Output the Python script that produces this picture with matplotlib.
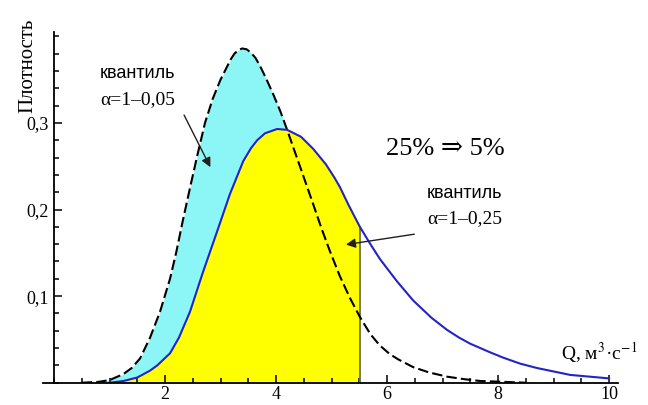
import numpy as np
import matplotlib
matplotlib.use('Agg')
import matplotlib.pyplot as plt
from matplotlib.ticker import MultipleLocator, FixedLocator

# density curves
q_dash = [0.5, 0.8, 1.0, 1.25, 1.4, 1.55, 1.73, 1.91, 2.09, 2.2, 2.32, 2.45, 2.58, 2.72, 2.86, 3.0,
          3.11, 3.18, 3.25, 3.32, 3.39, 3.47, 3.55, 3.63, 3.71, 3.83, 3.95, 4.08, 4.2, 4.32, 4.43,
          4.55, 4.67, 4.82, 4.97, 5.15, 5.33, 5.51, 5.7, 5.87, 6.05, 6.2, 6.47, 6.75, 7.08, 7.4,
          7.68, 8.1, 8.5]
p_dash = [0.000, 0.001, 0.003, 0.010, 0.017, 0.028, 0.052, 0.082, 0.120, 0.150, 0.187, 0.225, 0.262, 0.300, 0.328, 0.350,
          0.364, 0.373, 0.380, 0.384, 0.386, 0.385, 0.381, 0.375, 0.366, 0.350, 0.333, 0.313, 0.292, 0.270, 0.250,
          0.228, 0.206, 0.178, 0.152, 0.123, 0.098, 0.076, 0.056, 0.043, 0.033, 0.027, 0.018, 0.012, 0.007, 0.004,
          0.002, 0.001, 0.000]

q_blue = [1.0, 1.25, 1.5, 1.73, 1.86, 2.09, 2.25, 2.45, 2.68, 2.94, 3.17, 3.41, 3.55, 3.66, 3.8, 4.02,
          4.2, 4.45, 4.67, 4.9, 5.05, 5.15, 5.3, 5.51, 5.7, 5.87, 6.0, 6.18, 6.47, 6.8, 7.08, 7.3, 7.5,
          7.86, 8.09, 8.4, 8.7, 9.0, 9.3, 9.65, 10.0]
p_blue = [0.000, 0.002, 0.006, 0.014, 0.020, 0.034, 0.052, 0.082, 0.127, 0.175, 0.218, 0.256, 0.271, 0.280, 0.288, 0.293,
          0.292, 0.284, 0.270, 0.252, 0.237, 0.226, 0.206, 0.180, 0.160, 0.143, 0.132, 0.117, 0.095, 0.075, 0.061, 0.052, 0.045,
          0.035, 0.029, 0.022, 0.017, 0.013, 0.009, 0.007, 0.005]

q_cut = 5.51
x_ticks = [2, 4, 6, 8, 10]
y_ticks = [0.1, 0.2, 0.3]
y_labels = ['0,1', '0,2', '0,3']

SERIF = ['Liberation Serif', 'DejaVu Serif']
SANS = ['Liberation Sans', 'DejaVu Sans']


def main():
    plt.rcParams['mathtext.fontset'] = 'stix'
    qd = np.array(q_dash)
    pd_ = np.array(p_dash)
    qb = np.array(q_blue)
    pb = np.array(p_blue)

    fig = plt.figure(figsize=(6.48, 4.05), dpi=100)
    ax = fig.add_axes([0.0662, 0.055, 0.8875, 0.866])

    # fills: cyan under dashed, yellow under blue, both up to the quantile
    ax.fill_between(qd, 0, pd_, where=qd <= q_cut + 1e-9, color='#8cf6f6', lw=0)
    ax.fill_between(qb, 0, pb, where=qb <= q_cut + 1e-9, color='#ffff00', lw=0)
    ax.plot([q_cut, q_cut], [0, p_blue[q_blue.index(q_cut)]], color='#707050', lw=1.3)

    ax.plot(qd, pd_, color='black', lw=1.5, linestyle=(0, (5, 2)))
    ax.plot(qb, pb, color='#2323c8', lw=1.5)

    ax.set_xlim(-0.2, 10.16)
    ax.set_ylim(0, 0.405)
    for s in ['top', 'right']:
        ax.spines[s].set_visible(False)
    ax.spines['left'].set_position(('data', 0))
    ax.spines['left'].set_linewidth(1.3)
    ax.spines['bottom'].set_linewidth(1.3)

    ax.xaxis.set_major_locator(FixedLocator(x_ticks))
    ax.xaxis.set_minor_locator(MultipleLocator(0.5))
    ax.yaxis.set_major_locator(FixedLocator(y_ticks))
    ax.yaxis.set_minor_locator(MultipleLocator(0.02))
    ax.set_yticklabels(y_labels)
    ax.tick_params(which='both', direction='in', width=1.1)
    ax.tick_params(which='major', length=6)
    ax.tick_params(which='minor', length=3.5)
    ax.tick_params(axis='x', pad=2)
    ax.tick_params(axis='y', pad=4)
    for lab in ax.get_xticklabels() + ax.get_yticklabels():
        lab.set_family(SERIF)
        lab.set_fontsize(13)

    ax.text(-0.47, 0.366, 'Плотность', rotation=90, ha='center', va='center',
            family=SERIF, fontsize=15)
    ax.text(9.83, 0.035, 'Q, м$^{3}$·с$^{-1}$', ha='center', va='center',
            family=SERIF, fontsize=14)

    ax.text(0.83, 0.357, 'квантиль', family=SANS, fontsize=13, va='center')
    ax.text(0.83, 0.327, 'α=1–0,05', family=SERIF, fontsize=14, va='center')
    ax.annotate('', xy=(2.84, 0.246), xytext=(2.32, 0.312),
                arrowprops=dict(arrowstyle='-|>', color='#202020', lw=1.0, mutation_scale=14))

    ax.text(6.72, 0.218, 'квантиль', family=SANS, fontsize=13, va='center')
    ax.text(6.72, 0.189, 'α=1–0,25', family=SERIF, fontsize=14, va='center')
    ax.annotate('', xy=(5.21, 0.159), xytext=(6.54, 0.172),
                arrowprops=dict(arrowstyle='-|>', color='#202020', lw=1.0, mutation_scale=14))

    ax.text(7.05, 0.27, '25% ⇒ 5%', family=SERIF, fontsize=19, ha='center', va='center')

    fig.savefig('out.png', dpi=100)


if __name__ == '__main__':
    main()
